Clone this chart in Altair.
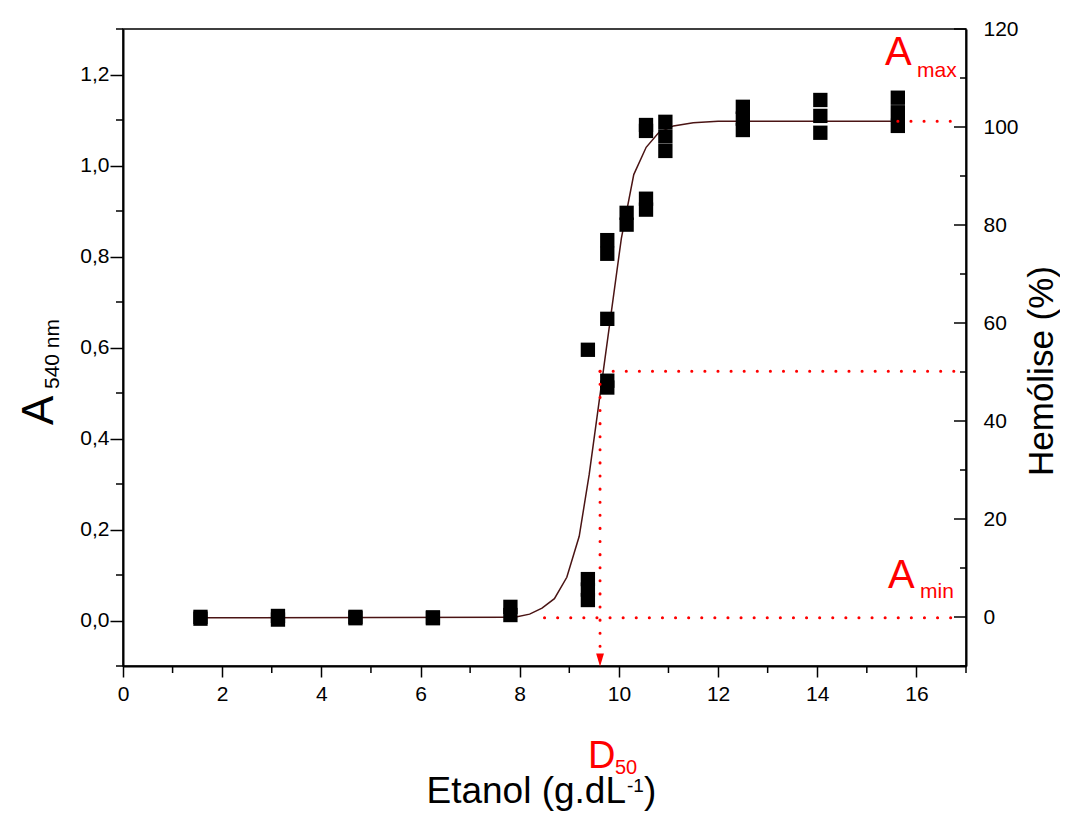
import altair as alt
import pandas as pd

# ---------------- data ----------------
# replicate measurements: ethanol concentration (g/dL) and absorbance at 540 nm
conc = [1.5625, 1.5625, 3.125, 3.125, 4.6875, 4.6875, 6.25, 6.25, 7.8125, 7.8125,
        9.375, 9.375, 9.375, 9.375,
        9.766, 9.766, 9.766, 9.766, 9.766,
        10.156, 10.156,
        10.547, 10.547, 10.547, 10.547,
        10.9375, 10.9375, 10.9375,
        12.5, 12.5, 12.5,
        14.0625, 14.0625, 14.0625,
        15.625, 15.625, 15.625]
absorb = [0.004, 0.008, 0.002, 0.010, 0.005, 0.008, 0.005, 0.007, 0.012, 0.030,
          0.045, 0.068, 0.091, 0.595,
          0.512, 0.527, 0.663, 0.806, 0.836,
          0.870, 0.896,
          0.903, 0.927, 1.076, 1.089,
          1.032, 1.064, 1.096,
          1.078, 1.103, 1.129,
          1.072, 1.109, 1.144,
          1.087, 1.117, 1.149]

# fitted sigmoid curve (vertices)
fit_x = [1.5625, 7.9, 8.2, 8.45, 8.7, 8.95, 9.2, 9.4, 9.6, 9.8, 10.05, 10.3,
         10.55, 10.8, 11.1, 11.5, 12.0, 12.5, 15.625]
fit_a = [0.006, 0.007, 0.014, 0.027, 0.048, 0.095, 0.185, 0.32, 0.48, 0.64, 0.84, 0.98,
         1.04, 1.072, 1.087, 1.094, 1.097, 1.097, 1.097]

a_min = 0.006
a_max = 1.097
a_50 = 0.548
d_50 = 9.62
guide_end = 16.87
amin_start = 8.5
arrow_base = -0.073
arrow_tip = -0.087

x_major = [0, 2, 4, 6, 8, 10, 12, 14, 16]
x_minor = [1, 3, 5, 7, 9, 11, 13, 15, 17]
y_major = [0.0, 0.2, 0.4, 0.6, 0.8, 1.0, 1.2]
y_minor = [-0.1, 0.1, 0.3, 0.5, 0.7, 0.9, 1.1, 1.3]
hem_major = [0, 20, 40, 60, 80, 100, 120]
hem_minor = [-10, 10, 30, 50, 70, 90, 110]

FONT = "Liberation Sans"
RED = "#ff0000"
W, H = 843, 637

pts = pd.DataFrame({"x": conc, "a": absorb})
fit = pd.DataFrame({"x": fit_x, "a": fit_a})

guides = pd.DataFrame({
    "seg": ["min", "min", "half", "half", "max", "max", "vert", "vert"],
    "o": [0, 1, 0, 1, 0, 1, 0, 1],
    "x": [amin_start, guide_end, d_50, guide_end, 15.625, guide_end, d_50, d_50],
    "a": [a_min, a_min, a_50, a_50, a_max, a_max, a_50, arrow_base],
})
arrow = pd.DataFrame({"x": [d_50], "a": [arrow_tip]})

xscale = alt.Scale(domain=[0, 17], nice=False, zero=False)
yscale = alt.Scale(domain=[-0.1, 1.3], nice=False, zero=False)
hem_scale = alt.Scale(domain=[-10, 120], nice=False, zero=False)

common_axis = dict(
    title=None, grid=False, labelFont=FONT, labelFontSize=21, labelColor="black",
    tickColor="black", tickWidth=1.5, domainColor="black", domainWidth=2,
    labelFlush=False, labelOverlap=False,
)
x_axis = alt.Axis(values=x_major, tickSize=11, labelPadding=6, **common_axis)
y_axis = alt.Axis(
    values=y_major, tickSize=13, labelPadding=1,
    labelExpr="replace(format(datum.value, '.1f'), '.', ',')",
    **common_axis,
)
hem_axis = alt.Axis(
    orient="right", values=hem_major, ticks=False, tickSize=0, labelPadding=17,
    **common_axis,
)

# the x scale (and its axis) is shared by every layer: same axis definition everywhere
X = alt.X("x:Q", scale=xscale, axis=x_axis)
Y = alt.Y("a:Q", scale=yscale, axis=None)

curve = alt.Chart(fit).mark_line(color="#4a1414", strokeWidth=1.5).encode(
    x=X,
    y=alt.Y("a:Q", scale=yscale, axis=y_axis),
)
points = alt.Chart(pts).mark_square(color="black", size=205, opacity=1).encode(x=X, y=Y)
dotted = alt.Chart(guides).mark_line(
    color=RED, strokeWidth=3, strokeDash=[0.1, 13], strokeCap="round"
).encode(x=X, y=Y, detail="seg:N", order="o:Q")
arrowhead = alt.Chart(arrow).mark_point(
    shape="M-0.6,-1L0.6,-1L0,1Z", filled=True, color=RED, size=169, opacity=1
).encode(x=X, y=Y)

# minor ticks of the left and bottom axes (outward)
x_minor_ticks = alt.Chart(pd.DataFrame({"x": x_minor})).mark_rule(
    color="black", strokeWidth=1.5
).encode(x=X, y=alt.value(H), y2=alt.value(H + 7))
y_minor_ticks = alt.Chart(pd.DataFrame({"a": y_minor})).mark_rule(
    color="black", strokeWidth=1.5
).encode(y=Y, x=alt.value(-7), x2=alt.value(0))

# right (Hemólise %) axis: labels from the axis, ticks pointing inward
right_major = alt.Chart(pd.DataFrame({"h": hem_major})).mark_rule(
    color="black", strokeWidth=1.5
).encode(
    y=alt.Y("h:Q", scale=hem_scale, axis=hem_axis),
    x=alt.value(W - 12), x2=alt.value(W),
)
right_minor = alt.Chart(pd.DataFrame({"h": hem_minor})).mark_rule(
    color="black", strokeWidth=1.5
).encode(
    y=alt.Y("h:Q", scale=hem_scale, axis=None),
    x=alt.value(W - 6), x2=alt.value(W),
)


def label(text, px, py, size, color="black", angle=0, align="left", baseline="alphabetic"):
    return alt.Chart().mark_text(
        text=text, font=FONT, fontSize=size, color=color, angle=angle,
        align=align, baseline=baseline,
    ).encode(x=alt.value(px), y=alt.value(py))


texts = [
    # left axis title  A_540 nm
    label("A", -70, 396, 44, angle=270),
    label("540 nm", -64, 360, 21, angle=270),
    # right axis title
    label("Hemólise (%)", 919, 342, 35, angle=270, align="center", baseline="middle"),
    # bottom axis title  Etanol (g.dL^-1)
    label("Etanol (g.dL", 503, 774, 37, align="right"),
    label("-1", 504, 763, 19),
    label(")", 521, 774, 37),
    # red annotations
    label("A", 762, 36, 40, color=RED),
    label("max", 794, 48, 21, color=RED),
    label("A", 765, 559, 40, color=RED),
    label("min", 797, 569, 21, color=RED),
    label("D", 465, 739, 38, color=RED),
    label("50", 492, 745, 20, color=RED),
]

chart = alt.layer(
    curve, points, dotted, arrowhead, x_minor_ticks, y_minor_ticks,
    right_major, right_minor, *texts
).resolve_scale(y="independent").properties(
    width=W, height=H,
    autosize=alt.AutoSizeParams(type="none"),
    padding={"left": 115, "top": 21, "right": 94, "bottom": 145},
    background="white",
).configure_view(stroke="black", strokeWidth=1.5)

chart.save("out.html", embed_options={"renderer": "svg", "actions": False})
